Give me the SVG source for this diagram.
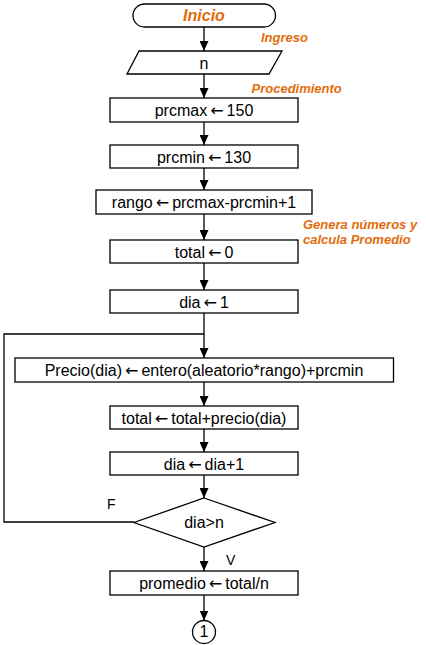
<svg xmlns="http://www.w3.org/2000/svg" width="426" height="645" viewBox="0 0 426 645">
<style>
.s{fill:#fff;stroke:#000;stroke-width:1.3}
.t{font-family:"Liberation Sans",Arial,sans-serif;font-size:16px;fill:#000;text-anchor:middle}
.a{font-family:"DejaVu Sans",sans-serif;font-size:16px}
.o{font-family:"Liberation Sans",Arial,sans-serif;font-weight:bold;font-style:italic;fill:#E36C0A}
.c{fill:none;stroke:#000;stroke-width:1.3}
.l{font-family:"Liberation Sans",Arial,sans-serif;font-size:14px;fill:#000}
</style>
<defs>
<marker id="ah" markerWidth="10" markerHeight="9" refX="10" refY="4.5" orient="auto" markerUnits="userSpaceOnUse">
<path d="M0,0 L10,4.5 L0,9 Z" fill="#000"/>
</marker>
</defs>
<rect width="426" height="645" fill="#fff"/>
<g id="connectors">
<line class="c" x1="204" y1="27" x2="204" y2="51" marker-end="url(#ah)"/>
<line class="c" x1="204" y1="74" x2="204" y2="98" marker-end="url(#ah)"/>
<line class="c" x1="204" y1="122" x2="204" y2="145" marker-end="url(#ah)"/>
<line class="c" x1="204" y1="168" x2="204" y2="190" marker-end="url(#ah)"/>
<line class="c" x1="204" y1="214" x2="204" y2="240" marker-end="url(#ah)"/>
<line class="c" x1="204" y1="263" x2="204" y2="290" marker-end="url(#ah)"/>
<line class="c" x1="204" y1="313" x2="204" y2="358" marker-end="url(#ah)"/>
<line class="c" x1="204" y1="382" x2="204" y2="406" marker-end="url(#ah)"/>
<line class="c" x1="204" y1="429" x2="204" y2="452" marker-end="url(#ah)"/>
<line class="c" x1="204" y1="475" x2="204" y2="498" marker-end="url(#ah)"/>
<line class="c" x1="204" y1="547" x2="204" y2="571" marker-end="url(#ah)"/>
<line class="c" x1="204" y1="595" x2="204" y2="620.5" marker-end="url(#ah)"/>
<polyline class="c" points="134,522 4,522 4,334 204,334"/>
<text class="l" x="107" y="509">F</text>
<text class="l" x="226" y="565">V</text>
</g>
<g id="inicio">
<rect class="s" x="133" y="4" width="142.5" height="23" rx="11.5"/>
<text class="o" x="204" y="21" font-size="16" text-anchor="middle">Inicio</text>
</g>
<text class="o" x="261" y="41.5" font-size="13">Ingreso</text>
<g id="input-n">
<polygon class="s" points="139,51 282,51 269,74 127,74"/>
<text class="t" x="204" y="68.5">n</text>
</g>
<text class="o" x="251.5" y="92.5" font-size="13">Procedimiento</text>
<g id="prcmax">
<rect class="s" x="110" y="98" width="188" height="24"/>
<text class="t" x="204" y="116">prcmax<tspan class="a" dx="3">←</tspan><tspan dx="3">150</tspan></text>
</g>
<g id="prcmin">
<rect class="s" x="110" y="145" width="188" height="23"/>
<text class="t" x="204" y="162.5">prcmin<tspan class="a" dx="3">←</tspan><tspan dx="3">130</tspan></text>
</g>
<g id="rango">
<rect class="s" x="96" y="190" width="216" height="24"/>
<text class="t" x="204" y="208">rango<tspan class="a" dx="3">←</tspan><tspan dx="3">prcmax-prcmin+1</tspan></text>
</g>
<text class="o" x="303" y="228.5" font-size="13">Genera números y</text>
<text class="o" x="303" y="243.5" font-size="13">calcula Promedio</text>
<g id="total0">
<rect class="s" x="110" y="240" width="188" height="23"/>
<text class="t" x="204" y="257.5">total<tspan class="a" dx="3">←</tspan><tspan dx="3">0</tspan></text>
</g>
<g id="dia1">
<rect class="s" x="110" y="290" width="188" height="23"/>
<text class="t" x="204" y="307.5">dia<tspan class="a" dx="3">←</tspan><tspan dx="3">1</tspan></text>
</g>
<g id="precio">
<rect class="s" x="15" y="358" width="378.5" height="24"/>
<text class="t" x="204" y="376">Precio(dia)<tspan class="a" dx="3">←</tspan><tspan dx="3">entero(aleatorio*rango)+prcmin</tspan></text>
</g>
<g id="total-sum">
<rect class="s" x="110" y="406" width="188" height="23"/>
<text class="t" x="204" y="423.5">total<tspan class="a" dx="3">←</tspan><tspan dx="3">total+precio(dia)</tspan></text>
</g>
<g id="dia-inc">
<rect class="s" x="110" y="452" width="188" height="23"/>
<text class="t" x="204" y="469.5">dia<tspan class="a" dx="3">←</tspan><tspan dx="3">dia+1</tspan></text>
</g>
<g id="decision">
<polygon class="s" points="204,498 275,522.5 204,547 134,522.5"/>
<text class="t" x="204" y="528">dia&gt;n</text>
</g>
<g id="promedio">
<rect class="s" x="110" y="571" width="188" height="24"/>
<text class="t" x="204" y="589">promedio<tspan class="a" dx="3">←</tspan><tspan dx="3">total/n</tspan></text>
</g>
<g id="connector-1">
<circle class="s" cx="204" cy="632" r="11.5"/>
<text class="t" x="204" y="637" font-size="13">1</text>
</g>
</svg>
